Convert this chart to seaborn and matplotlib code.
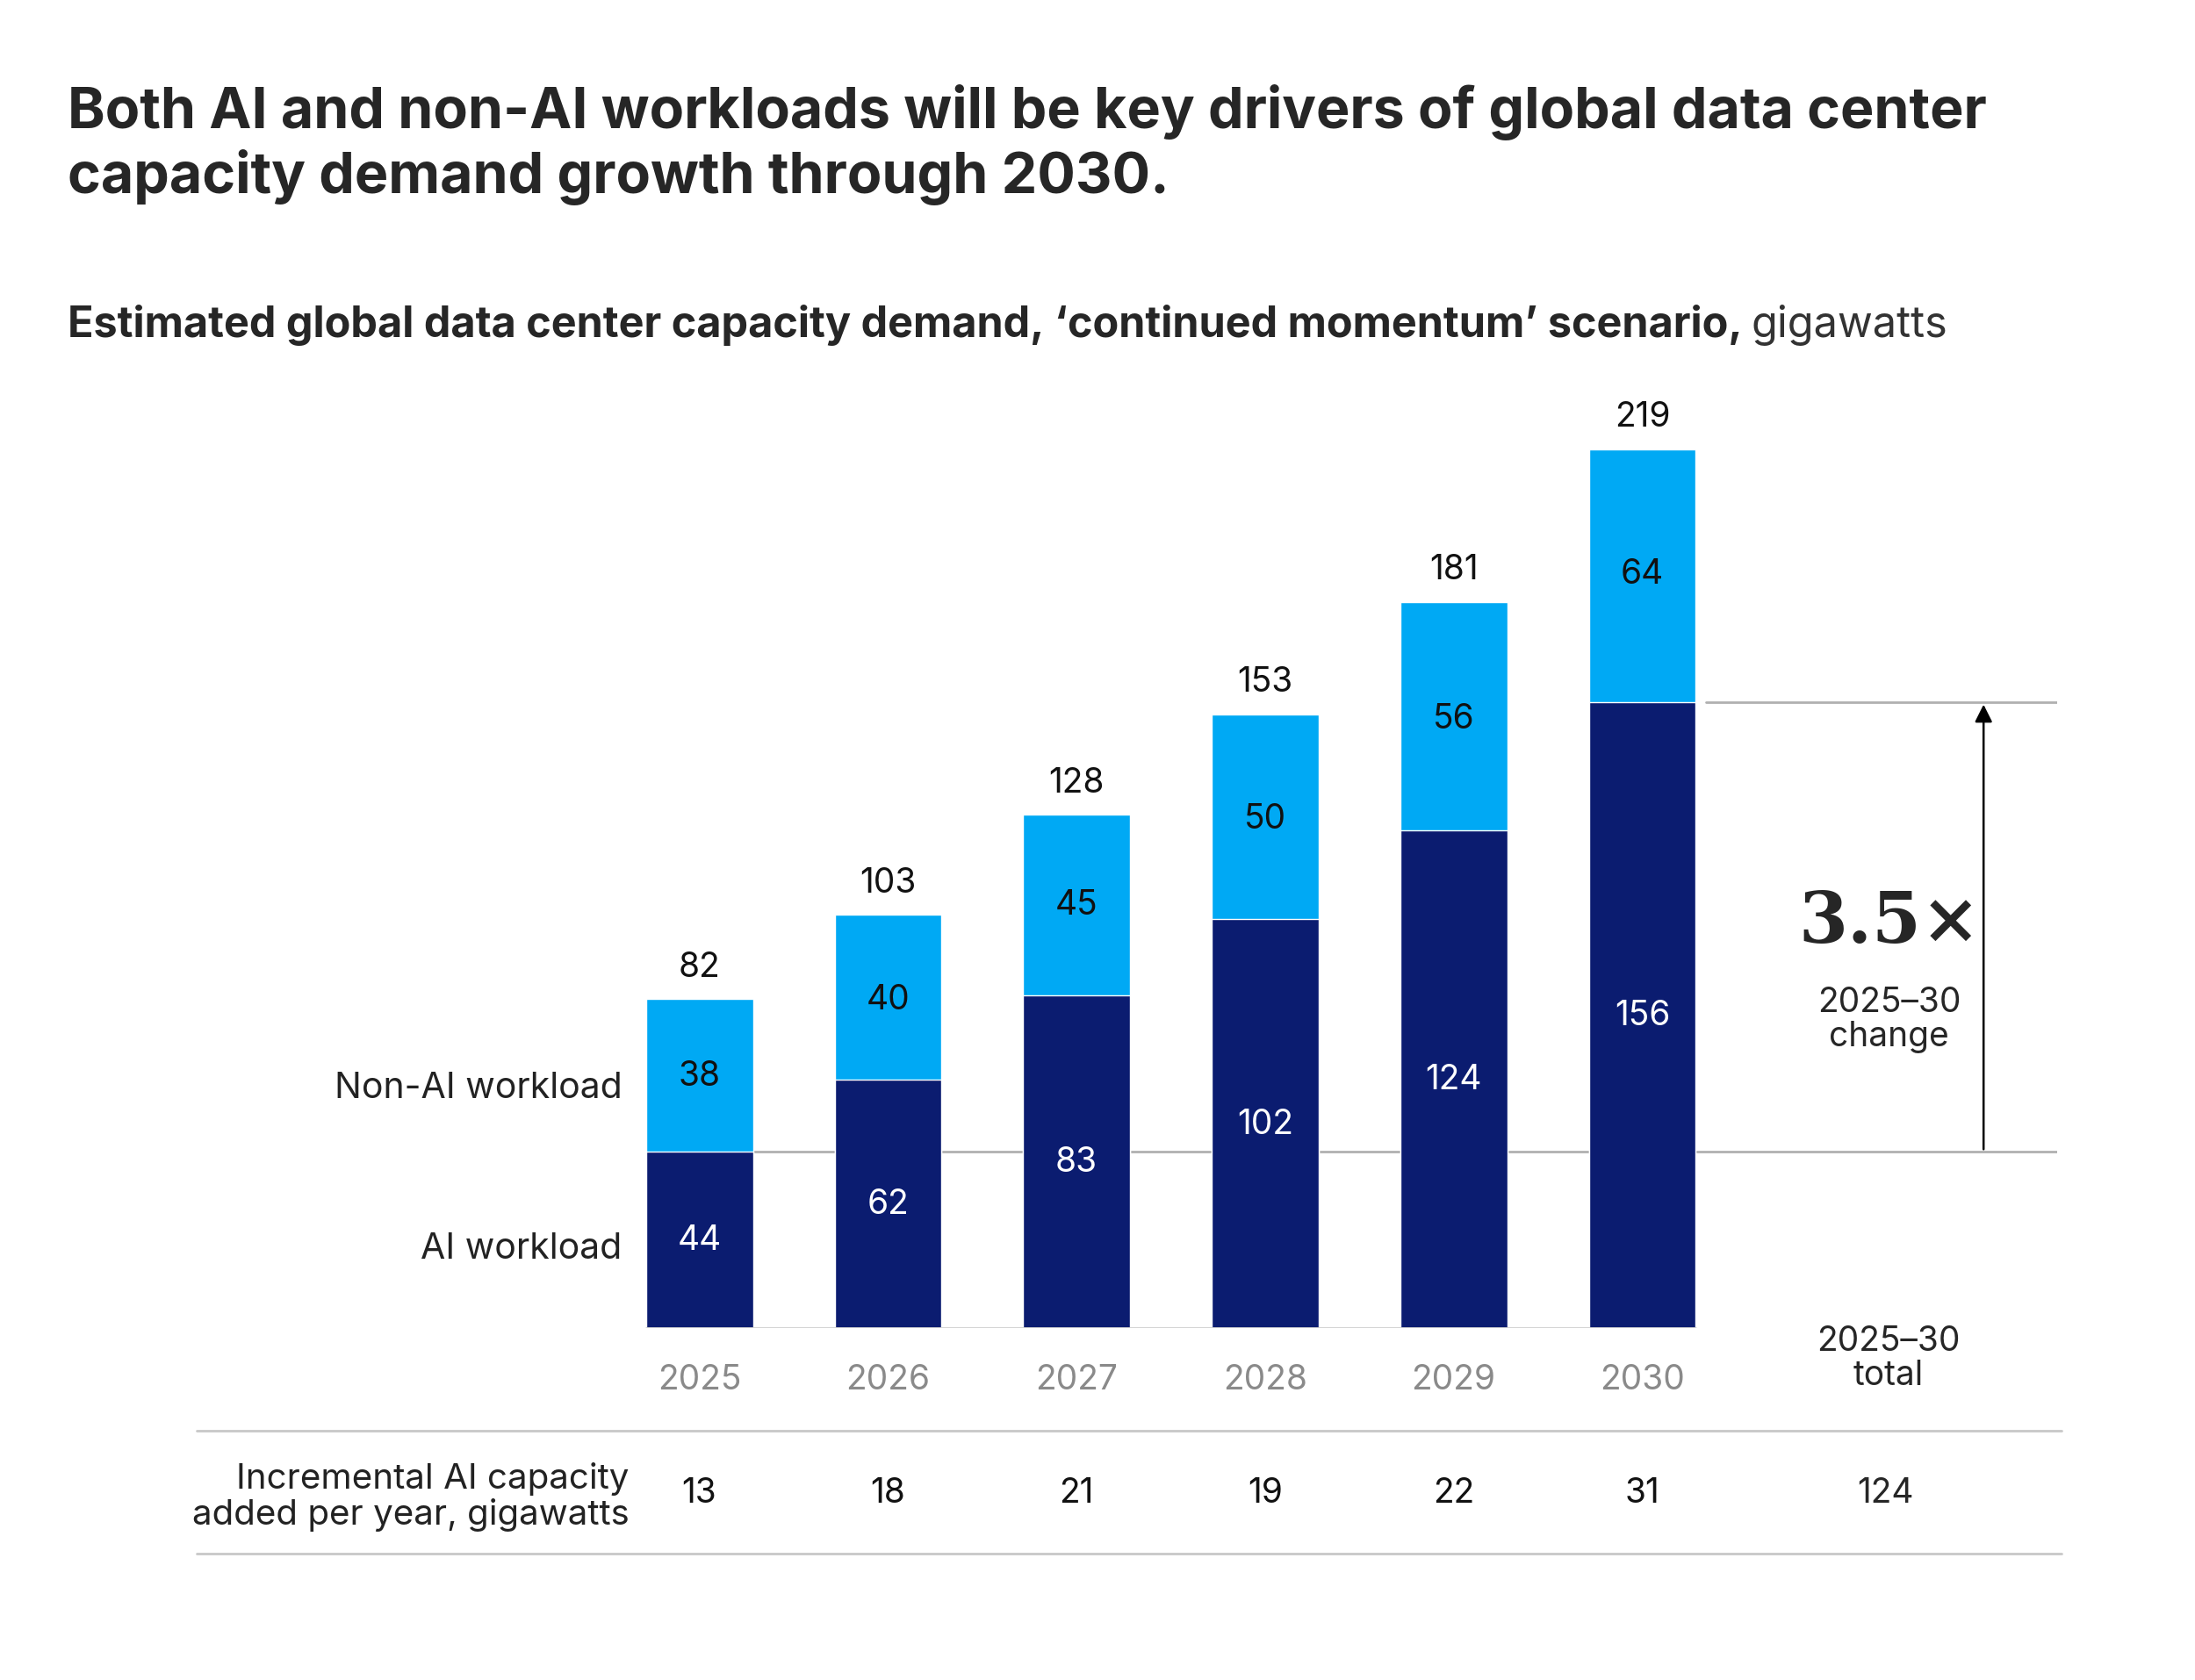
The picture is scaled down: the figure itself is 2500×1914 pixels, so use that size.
import matplotlib
matplotlib.use("Agg")
import matplotlib.pyplot as plt
import seaborn as sns
import pandas as pd

years = ["2025", "2026", "2027", "2028", "2029", "2030"]
ai = [44, 62, 83, 102, 124, 156]
non_ai = [38, 40, 45, 50, 56, 64]
totals = [82, 103, 128, 153, 181, 219]
incremental = ["13", "18", "21", "19", "22", "31"]
incremental_total = "124"

sns.set_theme(style="white")
plt.rcParams['font.family'] = ['Inter', 'DejaVu Sans']

NAVY = "#0B1C70"
CYAN = "#00A9F4"
GREY = "#8a8a8a"

fig = plt.figure(figsize=(25, 19.15), dpi=100)
W, H = 1560, 1195
def fx(x): return x / W
def fy(y): return 1 - y / H

ax = fig.add_axes([fx(137), fy(945), fx(1325), 665 / H])
df = pd.DataFrame({"year": years, "ai": ai, "non": non_ai, "tot": totals})
bw = 0.567
sns.barplot(data=df, x="year", y="tot", color=CYAN, width=bw, ax=ax, saturation=1, zorder=3)
sns.barplot(data=df, x="year", y="ai", color=NAVY, width=bw, ax=ax, saturation=1, zorder=4)
ax.set_xlim(-2.687, 7.2)
ax.set_ylim(0, 233)
ax.axis("off")

fs = 28
ax.plot([0 + bw / 2, 7.2], [ai[0], ai[0]], color="#b0b0b0", lw=2, zorder=1)
ax.plot([-bw / 2, 5 + bw / 2], [0, 0], color="#d0d0d0", lw=2, zorder=5)
ax.plot([5.34, 7.2], [ai[-1], ai[-1]], color="#b0b0b0", lw=2, zorder=1)
ax.annotate("", xy=(6.81, ai[-1]), xytext=(6.81, ai[0]),
            arrowprops=dict(arrowstyle="-|>", color="black", lw=1.8, mutation_scale=30), zorder=6)
ax.text(6.31, 101, "3.5×", fontsize=58, family=["DejaVu Serif"], weight="bold", ha="center", va="center")
ax.text(6.31, 77, "2025–30\nchange", fontsize=fs, ha="center", va="center", linespacing=1.05)

for i in range(len(years)):
    ax.text(i, ai[i] / 2, str(ai[i]), color="white", fontsize=fs, ha="center", va="center", zorder=7)
    ax.text(i, ai[i] + non_ai[i] / 2, str(non_ai[i]), color="#111111", fontsize=fs, ha="center", va="center", zorder=7)
    ax.text(i, totals[i] + 4, str(totals[i]), color="#111111", fontsize=fs, ha="center", va="bottom")
    fig.text(fx(497 + 134 * i), fy(981), years[i], color=GREY, fontsize=fs, ha="center", va="center")
    fig.text(fx(497 + 134 * i), fy(1062), incremental[i], color="#111111", fontsize=fs, ha="center", va="center")

ax.text(-0.41, 60, "Non-AI workload", fontsize=29.5, ha="right", va="center", color="#222222")
ax.text(-0.41, 20, "AI workload", fontsize=29.5, ha="right", va="center", color="#222222")

fig.text(fx(1342), fy(966), "2025–30\ntotal", fontsize=fs, ha="center", va="center", linespacing=1.05)
fig.text(fx(1340), fy(1062), incremental_total, fontsize=fs, ha="center", va="center")
fig.text(fx(447), fy(1064), "Incremental AI capacity\nadded per year, gigawatts", fontsize=29,
         ha="right", va="center", linespacing=1.1, color="#222222")
for yy in (1018, 1105):
    fig.add_artist(plt.Line2D([fx(140), fx(1465)], [fy(yy), fy(yy)], color="#c8c8c8", lw=2))

fig.text(fx(48), fy(103), "Both AI and non-AI workloads will be key drivers of global data center\ncapacity demand growth through 2030.",
         fontsize=46.5, weight="bold", ha="left", va="center", linespacing=1.2)
fig.text(fx(48), fy(231), "Estimated global data center capacity demand, ‘continued momentum’ scenario,",
         fontsize=35, weight="bold", ha="left", va="center")
t = fig.texts[-1]
fig.canvas.draw()
bb = t.get_window_extent()
fig.text(bb.x1 / fig.bbox.width + 0.004, fy(231), "gigawatts", fontsize=35, ha="left", va="center", color="#333333")

fig.savefig("out.png", dpi=100, facecolor="white")
